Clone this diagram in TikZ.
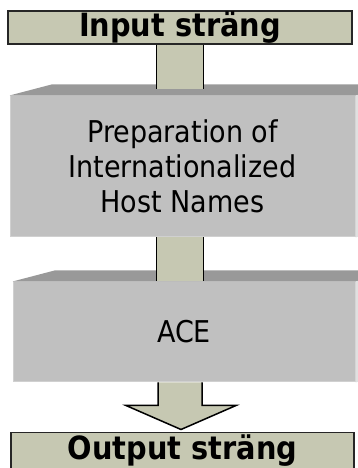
\documentclass[tikz,border=0pt]{standalone}
\usepackage{fontspec}
\setmainfont{DejaVu Sans Condensed}
\usetikzlibrary{calc}
\definecolor{stemfill}{RGB}{198,200,178}
\definecolor{slabfront}{RGB}{192,192,192}
\definecolor{slabtop}{RGB}{153,153,153}
\definecolor{slabside}{RGB}{224,224,224}
\definecolor{slabedge}{RGB}{208,208,208}

\begin{document}
\begin{tikzpicture}[
    x=1pt, y=1pt,
    strbox/.style={rectangle, draw=black!85, line width=1.2pt, fill=stemfill, inner sep=0pt, font=\fontsize{32}{36}\selectfont\bfseries},
    slab/.style={rectangle, draw=slabedge, line width=1pt, fill=slabfront, inner sep=0pt, align=center, font=\fontsize{30}{35}\selectfont},
    stemline/.style={draw=black, line width=1.5pt}
]
\useasboundingbox (0,0) rectangle (358,468);
\clip (0,0) rectangle (358,468);

\node[strbox, minimum width=344pt, minimum height=33pt] (input) at (180,440.5) {Input sträng};
\node[slab, minimum width=345pt, minimum height=141pt] (prep) at (182.5,301.5) {Preparation of\\Internationalized\\Host Names};
\node[slab, minimum width=342pt, minimum height=100pt] (ace) at (184,136) {ACE};
\node[strbox, minimum width=343pt, minimum height=37pt] (output) at (182.5,17) {Output sträng};

% top and side faces of the slabs
\foreach \s in {prep,ace} {
  \fill[slabtop] (\s.north west) -- ++(42,11) -- ($(\s.north east)+(42,11)$) -- (\s.north east) -- cycle;
  \fill[slabside] (\s.north east) -- ++(42,11) -- ($(\s.south east)+(42,11)$) -- (\s.south east) -- cycle;
}

% stems between the boxes
\foreach \a/\b/\d in {input/prep/6, prep/ace/0} {
  \coordinate (top) at (\a.south -| input.south);
  \coordinate (bot) at ($(\b.north -| input.south)+(0,\d)$);
  \fill[stemfill] ($(top)+(-23.5,0)$) rectangle ($(bot)+(23.5,0)$);
  \draw[stemline] ($(top)+(-23.5,0)$) -- ($(bot)+(-23.5,0)$) ($(top)+(23.5,0)$) -- ($(bot)+(23.5,0)$);
}

% block arrow to the output
\coordinate (abase) at (ace.south -| input.south);
\fill[stemfill] ($(abase)+(-22,0)$) -- ++(0,-23) -- ++(-32,0) -- ($(abase)+(1,-47)$) -- ($(abase)+(56,-23)$) -- ++(-34,0) -- ($(abase)+(22,0)$) -- cycle;
\draw[stemline] ($(abase)+(-22,0)$) -- ++(0,-23) -- ++(-32,0) -- ($(abase)+(1,-47)$) -- ($(abase)+(56,-23)$) -- ++(-34,0) -- ($(abase)+(22,0)$);

\end{tikzpicture}
\end{document}
